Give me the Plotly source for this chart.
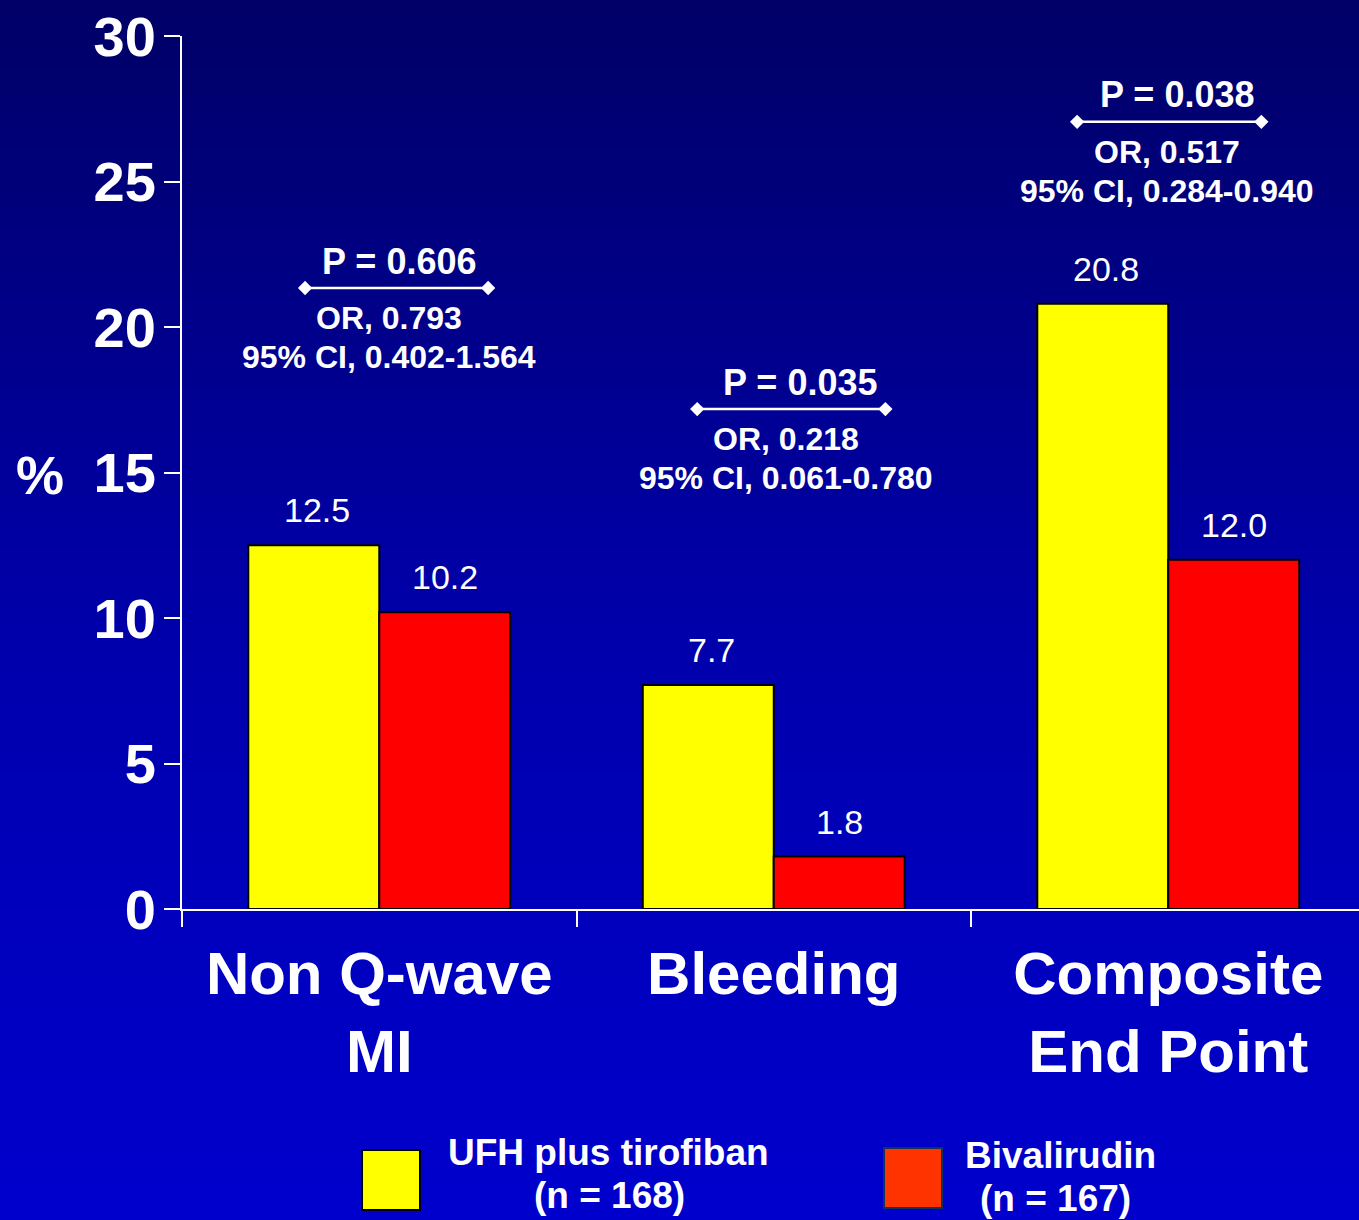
import plotly.graph_objects as go

# ---------------- data ----------------
categories = ["Non Q-wave<br>MI", "Bleeding", "Composite<br>End Point"]
ufh_tirofiban = [12.5, 7.7, 20.8]
bivalirudin = [10.2, 1.8, 12.0]
value_labels_ufh = ["12.5", "7.7", "20.8"]
value_labels_biv = ["10.2", "1.8", "12.0"]
p_values = ["P = 0.606", "P = 0.035", "P = 0.038"]
odds_ratios = ["OR, 0.793", "OR, 0.218", "OR, 0.517"]
conf_intervals = ["95% CI, 0.402-1.564", "95% CI, 0.061-0.780", "95% CI, 0.284-0.940"]
legend_names = ["UFH plus tirofiban", "Bivalirudin"]
legend_counts = ["(n = 168)", "(n = 167)"]
y_ticks = [0, 5, 10, 15, 20, 25, 30]

# ---------------- layout geometry (styling, not data) ----------------
W, H = 1359, 1220
ML, MR, MT, MB = 182, 0, 36, 311
PW, PH = W - ML - MR, H - MT - MB
CAT_PX = 394.5
XMAX = -0.5 + PW / CAT_PX
FONT = "Liberation Sans, Arial, sans-serif"
YELLOW, RED, RED_LEG = "#FFFF00", "#FF0000", "#FF3300"
BAR_OFF = 0.166

def px2x(px):
    return (px - ML) / PW

def px2y(py):
    return (H - MB - py) / PH

# bracket positions (in category-index units / data units)
bracket_x = [(-0.188, 0.276), (0.806, 1.283), (1.769, 2.236)]
bracket_y = [21.34, 17.18, 27.05]
p_text_x = [0.051, 1.067, 2.023]
stat_text_x = [0.024, 1.03, 1.998]

fig = go.Figure()

fig.add_trace(go.Bar(
    x=categories, y=ufh_tirofiban, name=legend_names[0],
    marker=dict(color=YELLOW, line=dict(color="black", width=2)),
    offsetgroup="a", showlegend=False, hoverinfo="skip"))
fig.add_trace(go.Bar(
    x=categories, y=bivalirudin, name=legend_names[1],
    marker=dict(color=RED, line=dict(color="black", width=2)),
    offsetgroup="b", showlegend=False, hoverinfo="skip"))

# brackets with diamond ends on a numeric overlay axis
for (x0, x1), yb in zip(bracket_x, bracket_y):
    fig.add_trace(go.Scatter(
        x=[x0, x1], y=[yb, yb], xaxis="x2", yaxis="y",
        mode="lines+markers",
        line=dict(color="white", width=2.5),
        marker=dict(symbol="diamond", size=11, color="white"),
        showlegend=False, hoverinfo="skip"))

annotations = []
# bar value labels
for i in range(len(categories)):
    annotations.append(dict(x=i - BAR_OFF + 0.008, y=ufh_tirofiban[i], xref="x2", yref="y",
                            text=value_labels_ufh[i], showarrow=False, yshift=35,
                            font=dict(family=FONT, size=34, color="white")))
    annotations.append(dict(x=i + BAR_OFF, y=bivalirudin[i], xref="x2", yref="y",
                            text=value_labels_biv[i], showarrow=False, yshift=35,
                            font=dict(family=FONT, size=34, color="white")))
# statistics text
for i in range(len(categories)):
    yb = bracket_y[i]
    annotations.append(dict(x=p_text_x[i], y=yb, xref="x2", yref="y", text=p_values[i],
                            showarrow=False, yshift=27,
                            font=dict(family=FONT, size=36, color="white", weight="bold")))
    annotations.append(dict(x=stat_text_x[i], y=yb, xref="x2", yref="y", text=odds_ratios[i],
                            showarrow=False, yshift=-30,
                            font=dict(family=FONT, size=32, color="white", weight="bold")))
    annotations.append(dict(x=stat_text_x[i], y=yb, xref="x2", yref="y", text=conf_intervals[i],
                            showarrow=False, yshift=-69,
                            font=dict(family=FONT, size=32, color="white", weight="bold")))

# y-axis title
annotations.append(dict(x=px2x(40), y=px2y(475), xref="paper", yref="paper", text="%",
                        showarrow=False, xanchor="center", yanchor="middle",
                        font=dict(family=FONT, size=54, color="white", weight="bold")))

# legend text
leg_text = [
    (legend_names[0], 608, 1152), (legend_counts[0], 609, 1195),
    (legend_names[1], 1060, 1155), (legend_counts[1], 1055, 1198),
]
for t, cx, cy in leg_text:
    annotations.append(dict(x=px2x(cx), y=px2y(cy), xref="paper", yref="paper", text=t,
                            showarrow=False, xanchor="center", yanchor="middle",
                            font=dict(family=FONT, size=37, color="white", weight="bold")))

shapes = []
# gradient background
stops = [(0, 102), (300, 135), (600, 168), (900, 188), (1220, 205)]
def blue_at(py):
    for (a, ca), (b, cb) in zip(stops[:-1], stops[1:]):
        if a <= py <= b:
            return ca + (cb - ca) * (py - a) / (b - a)
    return stops[-1][1]
step = 10
for top in range(0, H, step):
    bot = min(top + step, H)
    b = int(round(blue_at((top + bot) / 2)))
    shapes.append(dict(type="rect", xref="paper", yref="paper", layer="below",
                       x0=px2x(-2), x1=px2x(W + 2), y0=px2y(bot + 0.5), y1=px2y(top - 0.5),
                       line=dict(width=0), fillcolor=f"rgb(0,0,{b})"))
# legend swatches
shapes.append(dict(type="rect", xref="paper", yref="paper",
                   x0=px2x(362), x1=px2x(420), y0=px2y(1210), y1=px2y(1150),
                   fillcolor=YELLOW, line=dict(color="black", width=2)))
shapes.append(dict(type="rect", xref="paper", yref="paper",
                   x0=px2x(884), x1=px2x(942), y0=px2y(1208), y1=px2y(1148),
                   fillcolor=RED_LEG, line=dict(color="#113355", width=2)))

fig.update_layout(
    width=W, height=H,
    margin=dict(l=ML, r=MR, t=MT, b=MB, pad=0),
    paper_bgcolor="#000099", plot_bgcolor="rgba(0,0,0,0)",
    barmode="group", bargap=0.336, bargroupgap=0,
    xaxis=dict(type="category", range=[-0.5, XMAX], showgrid=False, zeroline=False,
               showline=True, linecolor="white", linewidth=2,
               ticks="outside", tickson="boundaries", ticklen=16, tickwidth=2,
               tickcolor="white", ticklabelstandoff=11,
               tickfont=dict(family=FONT, size=60, color="white", weight="bold")),
    xaxis2=dict(overlaying="x", range=[-0.5, XMAX], visible=False, showgrid=False,
                zeroline=False),
    yaxis=dict(range=[0, 30], tickvals=y_ticks, showgrid=False, zeroline=False,
               showline=True, linecolor="white", linewidth=2,
               ticks="outside", ticklen=16, tickwidth=2, tickcolor="white",
               ticklabelstandoff=-3,
               tickfont=dict(family=FONT, size=56, color="white", weight="bold")),
    annotations=annotations, shapes=shapes,
    showlegend=False,
)

fig.write_html(
    "out.html",
    config={"displayModeBar": False},
    post_script="document.body.style.margin='0';document.body.style.padding='0';"
                "document.body.style.overflow='hidden';"
                "document.body.style.background='#000099';",
)
